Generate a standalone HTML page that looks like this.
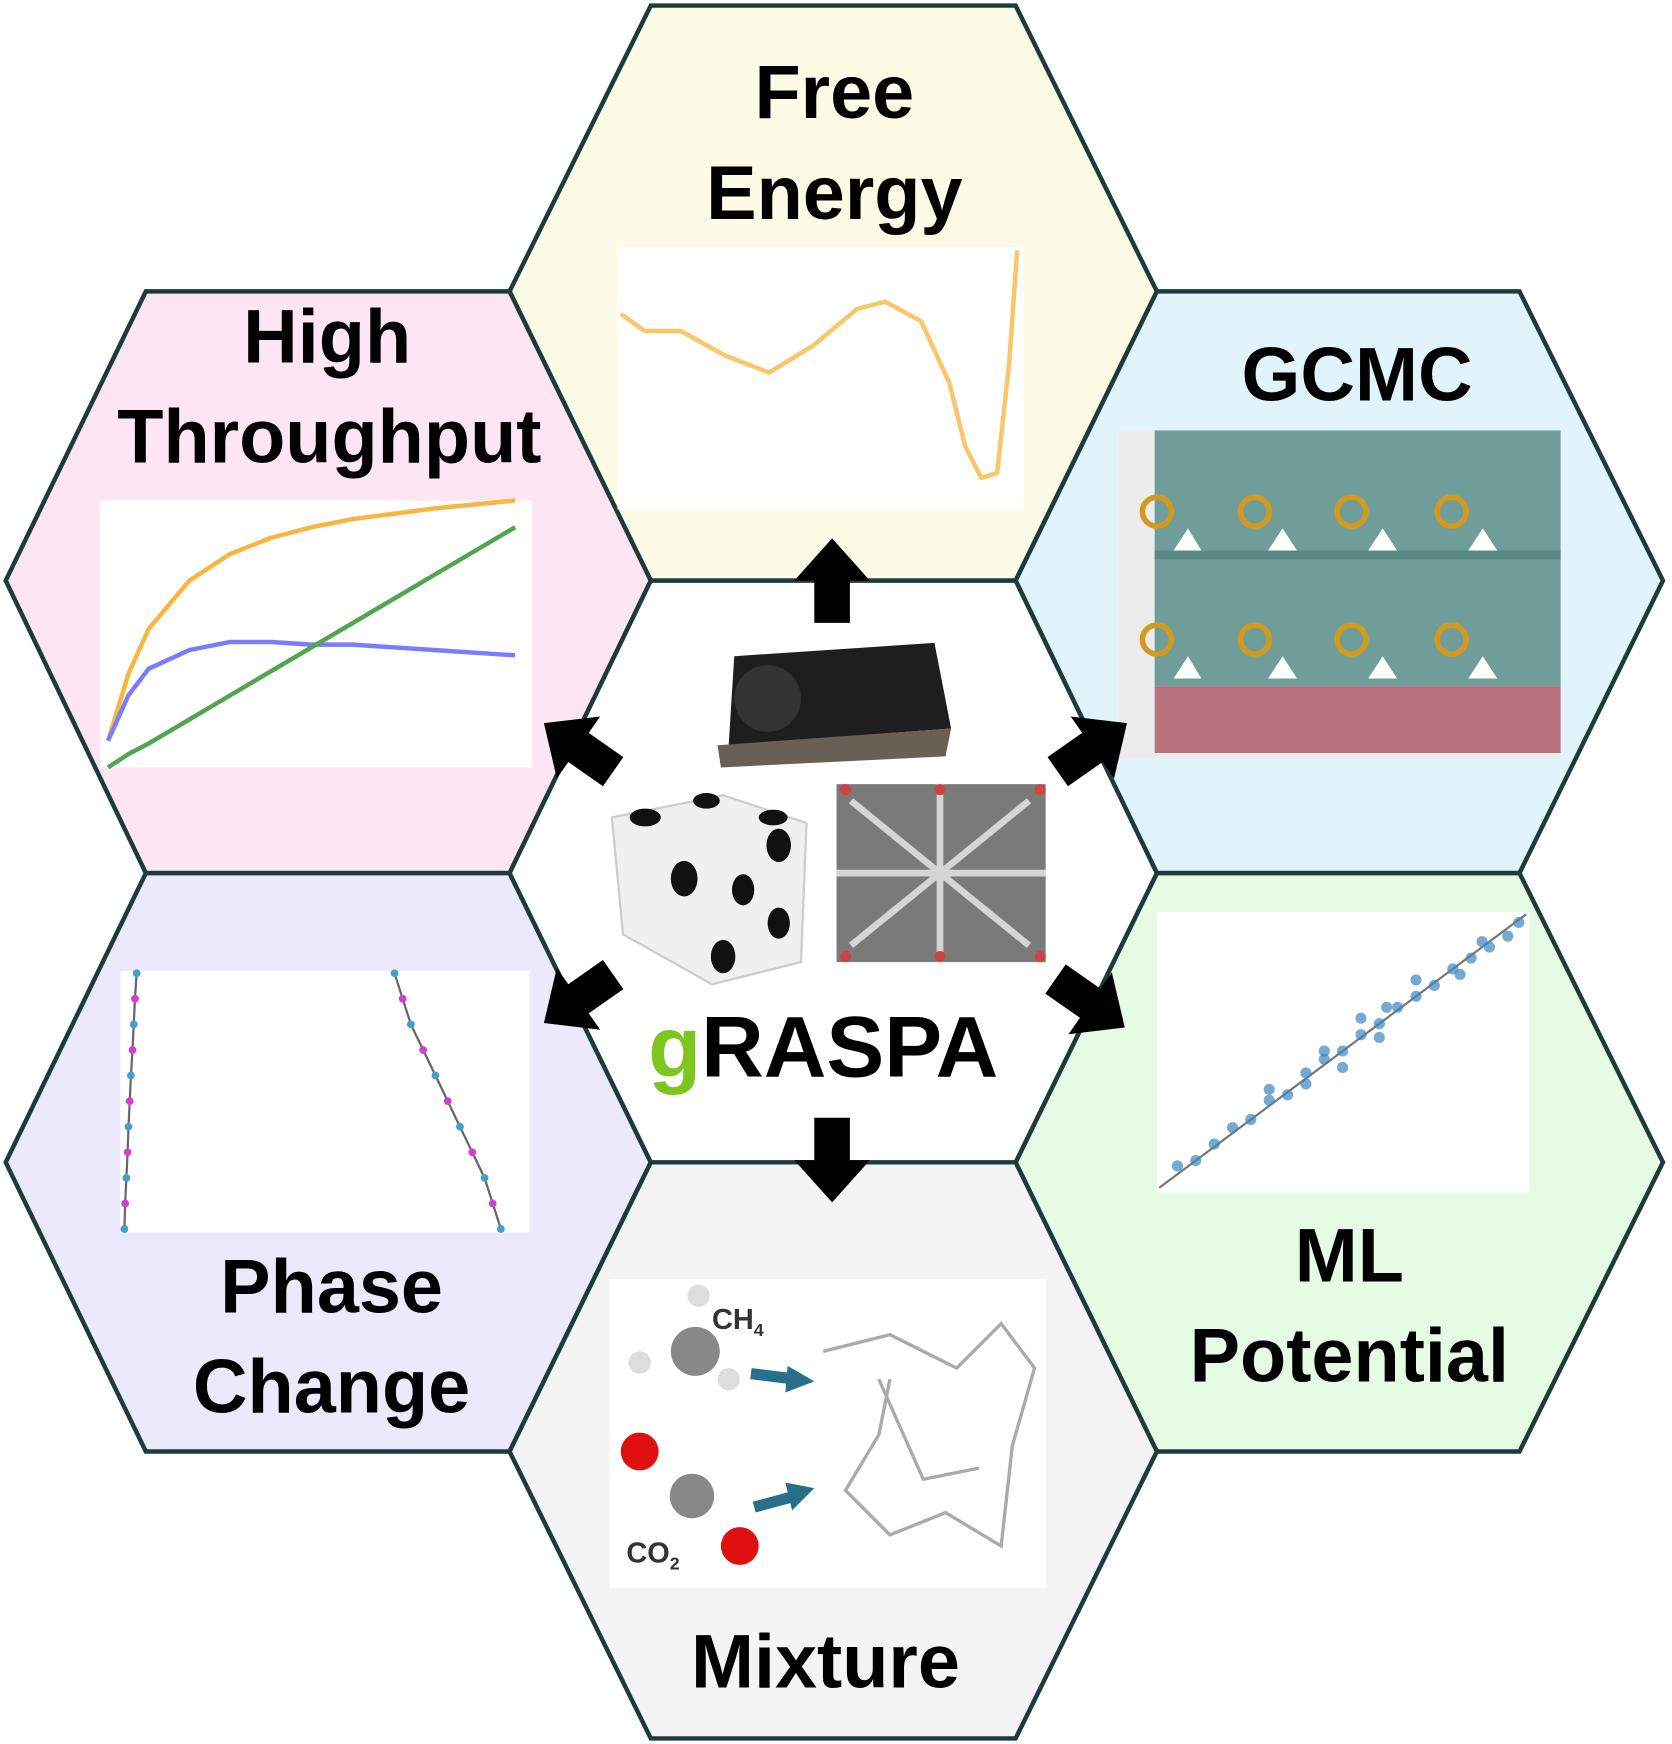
<!DOCTYPE html>
<html><head><meta charset="utf-8"><style>
html,body{margin:0;padding:0;background:#fff}
svg{display:block}
text{font-family:"Liberation Sans",Arial,sans-serif;font-weight:bold}
</style></head><body>
<svg id="root" width="1672" height="1744" viewBox="0 0 1503 1568" xmlns="http://www.w3.org/2000/svg">
<defs><polygon id="arr" points="-16,38 -16,0 -34,0 0,-38 34,0 16,0 16,38"/></defs>
<g id="hexes" stroke="#1d3b3b" stroke-width="4">
<polygon fill="#fcfce6" points="585,5 913,5 1040,262 913,522 585,522 458,262"/>
<polygon fill="#fde6f1" points="131,262 458,262 585,522 458,785 131,785 5,522"/>
<polygon fill="#e1f4fc" points="1040,262 1366,262 1495,522 1366,785 1040,785 913,522"/>
<polygon fill="#ede9fc" points="131,785 458,785 585,1045 458,1305 131,1305 5,1045"/>
<polygon fill="#e5fbe4" points="1040,785 1366,785 1495,1045 1366,1305 1040,1305 913,1045"/>
<polygon fill="#f4f4f4" points="585,1045 913,1045 1040,1305 913,1563 585,1563 458,1305"/>
<polygon fill="#ffffff" points="585,522 913,522 1040,785 913,1045 585,1045 458,785"/>
</g>
<rect x="555" y="222" width="365" height="236" fill="#fff"/>
<rect x="90" y="450" width="388" height="240" fill="#fff"/>
<rect x="108" y="873" width="368" height="235" fill="#fff"/>
<rect x="1040" y="820" width="335" height="252" fill="#fff"/>
<rect x="548" y="1150" width="392" height="278" fill="#fff"/>
<g>
<rect x="1005" y="387" width="398" height="295" fill="#ececec"/>
<rect x="1038" y="387" width="365" height="230" fill="#6f9e9a"/>
<rect x="1038" y="495" width="365" height="8" fill="#5b8a86"/>
<rect x="1038" y="617" width="365" height="60" fill="#b9707d"/>
<g fill="none" stroke="#d49a20" stroke-width="5">
<circle cx="1040" cy="460" r="13"/><circle cx="1128" cy="460" r="13"/><circle cx="1215" cy="460" r="13"/><circle cx="1305" cy="460" r="13"/>
<circle cx="1040" cy="575" r="13"/><circle cx="1128" cy="575" r="13"/><circle cx="1215" cy="575" r="13"/><circle cx="1305" cy="575" r="13"/>
</g>
<g fill="#fff"><polygon points="1055,495 1068,475 1080,495"/><polygon points="1140,495 1153,475 1166,495"/><polygon points="1230,495 1243,475 1256,495"/><polygon points="1320,495 1333,475 1346,495"/>
<polygon points="1055,610 1068,590 1080,610"/><polygon points="1140,610 1153,590 1166,610"/><polygon points="1230,610 1243,590 1256,610"/><polygon points="1320,610 1333,590 1346,610"/></g>
</g>
<g>
<circle cx="625" cy="1215" r="22" fill="#888"/><circle cx="628" cy="1165" r="10" fill="#ddd"/><circle cx="575" cy="1225" r="10" fill="#ddd"/><circle cx="655" cy="1240" r="10" fill="#ddd"/>
<text x="640" y="1195" font-size="26" fill="#333">CH<tspan font-size="16" dy="6">4</tspan></text>
<circle cx="575" cy="1305" r="17" fill="#e01010"/><circle cx="622" cy="1345" r="20" fill="#888"/><circle cx="665" cy="1390" r="17" fill="#e01010"/>
<text x="563" y="1405" font-size="26" fill="#333">CO<tspan font-size="16" dy="6">2</tspan></text>
<path d="M675 1235 L715 1240" stroke="#276f8a" stroke-width="10"/><polygon points="708,1228 732,1242 706,1252" fill="#276f8a"/>
<path d="M678 1355 L715 1345" stroke="#276f8a" stroke-width="10"/><polygon points="706,1333 732,1338 712,1358" fill="#276f8a"/>
<g fill="none" stroke="#aaa" stroke-width="3"><path d="M740 1215 L800 1200 L860 1230 L900 1190 L930 1230 L910 1300 L900 1390 L850 1360 L800 1380 L760 1340 L790 1290 L800 1240"/><path d="M790 1240 L830 1330 L880 1320"/></g>
</g>
<g>
<polygon points="660,590 840,578 855,655 655,670" fill="#1e1e1e"/>
<polygon points="645,670 855,655 850,680 648,690" fill="#6a5f55"/>
<circle cx="690" cy="628" r="30" fill="#333"/>
</g>
<g>
<polygon points="550,735 650,715 725,740 720,865 640,885 560,840" fill="#f0f0f0" stroke="#ccc" stroke-width="2"/>
<g fill="#111"><ellipse cx="580" cy="735" rx="14" ry="8"/><ellipse cx="635" cy="720" rx="12" ry="7"/><ellipse cx="695" cy="735" rx="13" ry="7"/>
<ellipse cx="615" cy="790" rx="12" ry="16"/><ellipse cx="700" cy="760" rx="11" ry="15"/><ellipse cx="668" cy="800" rx="10" ry="14"/><ellipse cx="700" cy="830" rx="10" ry="14"/><ellipse cx="650" cy="860" rx="11" ry="15"/></g>
</g>
<g>
<rect x="752" y="705" width="188" height="160" fill="#7a7a7a"/>
<g fill="none" stroke="#d5d5d5" stroke-width="6"><path d="M765 720 L925 850 M925 720 L765 850 M845 705 L845 865 M752 785 L940 785"/></g>
<g fill="#c44"><circle cx="760" cy="710" r="5"/><circle cx="935" cy="710" r="5"/><circle cx="760" cy="860" r="5"/><circle cx="935" cy="860" r="5"/><circle cx="845" cy="710" r="5"/><circle cx="845" cy="860" r="5"/></g>
</g>
<g fill="#000">
<use href="#arr" transform="translate(748,522)"/>
<use href="#arr" transform="translate(748,1043) rotate(180)"/>
<use href="#arr" transform="translate(520,672) rotate(-55)"/>
<use href="#arr" transform="translate(982,672) rotate(55)"/>
<use href="#arr" transform="translate(520,898) rotate(-125)"/>
<use href="#arr" transform="translate(980,902) rotate(125)"/>
</g>
<g fill="#000" text-anchor="middle" font-size="68">
<text x="750" y="106">Free</text>
<text x="750" y="197">Energy</text>
<text x="294" y="326">High</text>
<text x="296" y="416">Throughput</text>
<text x="1220" y="360">GCMC</text>
<text x="298" y="1180">Phase</text>
<text x="298" y="1270">Change</text>
<text x="1213" y="1152">ML</text>
<text x="1213" y="1242">Potential</text>
<text x="742" y="1517">Mixture</text>
<text x="740" y="968" font-size="78"><tspan fill="#7cc61e">g</tspan>RASPA</text>
</g>
<g id="charts"></g>
</svg>
<script>
const feX = [0,0.06,0.15,0.26,0.37,0.48,0.59,0.66,0.75,0.82,0.86,0.9,0.94,0.97,0.99];
const feY = [0.74,0.67,0.67,0.57,0.50,0.61,0.76,0.79,0.71,0.46,0.20,0.07,0.09,0.54,1.0];
const htX = [0,0.05,0.1,0.2,0.3,0.4,0.5,0.6,0.7,0.8,0.9,1];
const htOrange = [0.10,0.35,0.52,0.70,0.80,0.86,0.90,0.93,0.95,0.97,0.985,1.0];
const htBlue = [0.10,0.27,0.37,0.44,0.47,0.47,0.46,0.46,0.45,0.44,0.43,0.42];
const htGreen = [0.0,0.05,0.09,0.18,0.27,0.36,0.45,0.54,0.63,0.72,0.81,0.90];
const pcY = [0,0.1,0.2,0.3,0.4,0.5,0.6,0.7,0.8,0.9,1];
const pcLeft = [0.01,0.012,0.015,0.018,0.02,0.023,0.026,0.03,0.033,0.036,0.04];
const pcRight = [0.93,0.91,0.89,0.86,0.83,0.80,0.77,0.74,0.71,0.69,0.67];
const mlX = [0.05,0.1,0.15,0.2,0.25,0.3,0.35,0.4,0.45,0.5,0.55,0.6,0.65,0.7,0.75,0.8,0.85,0.9,0.95,0.98,0.3,0.45,0.6,0.7,0.82,0.5,0.55,0.62,0.4,0.88];
const mlY = [0.08,0.1,0.16,0.22,0.25,0.32,0.34,0.42,0.47,0.5,0.56,0.6,0.66,0.7,0.74,0.8,0.84,0.88,0.92,0.97,0.36,0.5,0.55,0.76,0.78,0.44,0.62,0.66,0.38,0.9];

const NS='http://www.w3.org/2000/svg';
const root=document.getElementById('charts');
function axis(x0,x1,y0,y1){return {sx:v=>x0+v*(x1-x0), sy:v=>y0-v*(y0-y1)};}
function line(ax,xs,ys,color,w,name){
  const p=document.createElementNS(NS,'path');
  let d='';xs.forEach((x,i)=>{d+=(i?'L':'M')+ax.sx(x).toFixed(1)+' '+ax.sy(ys[i]).toFixed(1);});
  p.setAttribute('d',d);p.setAttribute('fill','none');p.setAttribute('stroke',color);p.setAttribute('stroke-width',w);p.setAttribute('stroke-linejoin','round');
  
  
  root.appendChild(p);
}
const feAx=axis(558,918,445,225);
line(feAx,feX,feY,'#fbc56a',4,'free-energy-curve');
const htAx=axis(97,463,690,450);
line(htAx,htX,htOrange,'#f8b640',4,'throughput-orange-line');
line(htAx,htX,htBlue,'#7b7bff',4,'throughput-blue-line');
line(htAx,htX,htGreen,'#4fa64f',4,'throughput-green-line');
const pcAx=axis(108,476,1105,875);
line(pcAx,pcLeft,pcY,'#666',2,'phase-left-curve');
line(pcAx,pcRight,pcY,'#666',2,'phase-right-curve');
[pcLeft,pcRight].forEach(arr=>{arr.forEach((x,i)=>{
  const c=document.createElementNS(NS,'circle');
  c.setAttribute('cx',pcAx.sx(x));c.setAttribute('cy',pcAx.sy(pcY[i]));c.setAttribute('r',3.5);c.setAttribute('fill',i%2?'#d040d0':'#40a0d0');
  
  
  root.appendChild(c);
});});
const mlAx=axis(1042,1372,1068,822);
line(mlAx,[0,1],[0,1],'#777',2,'ml-parity-line');
mlX.forEach((x,i)=>{
  const c=document.createElementNS(NS,'circle');
  c.setAttribute('cx',mlAx.sx(x));c.setAttribute('cy',mlAx.sy(mlY[i]));c.setAttribute('r',5);c.setAttribute('fill','#3a87c0');c.setAttribute('opacity','0.7');
  
  
  root.appendChild(c);
});
</script>
</body></html>
